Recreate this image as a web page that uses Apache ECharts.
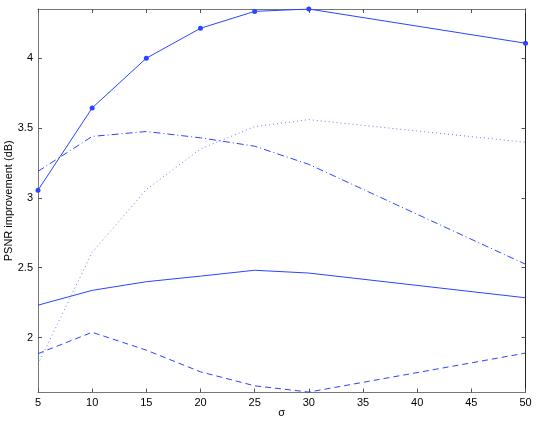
<!DOCTYPE html>
<html><head><meta charset="utf-8">
<script src="https://cdn.jsdelivr.net/npm/echarts@6/dist/echarts.min.js"></script>
<style>html,body{margin:0;padding:0;background:#fff}#c{width:540px;height:425px}</style>
</head><body><div id="c"></div>
<script>
const sigma = [5, 10, 15, 20, 25, 30, 50];
const solidMarked = [3.055, 3.644, 4.0, 4.214, 4.335, 4.352, 4.107];
const dashDot = [3.19, 3.44, 3.475, 3.43, 3.37, 3.24, 2.525];
const dotted = [1.81, 2.61, 3.06, 3.35, 3.51, 3.56, 3.398];
const solidPlain = [2.232, 2.338, 2.40, 2.44, 2.482, 2.462, 2.285];
const dashed = [1.885, 2.038, 1.91, 1.755, 1.655, 1.61, 1.889];
const xTicks = [5, 10, 15, 20, 25, 30, 35, 40, 45, 50];
const yTicks = [2, 2.5, 3, 3.5, 4];

const col = '#2a44ff';
const font = 'Liberation Sans, Arial, sans-serif';
function pairs(v) { return sigma.map((x, i) => [x, v[i]]); }
function ln(name, data, type, opts) {
  return Object.assign({
    name, type: 'line', data: pairs(data), xAxisIndex: 0, yAxisIndex: 0,
    showSymbol: false, symbol: 'none', animation: false,
    lineStyle: { color: col, width: 1, type: type },
    itemStyle: { color: col }
  }, opts || {});
}
const chart = echarts.init(document.getElementById('c'), null, { renderer: 'canvas' });
const axLine = c => ({ show: true, lineStyle: { color: c, width: 1 } });
chart.setOption({
  animation: false,
  grid: { left: 38, top: 9, right: 14.5, bottom: 32.5, containLabel: false, outerBoundsMode: 'none' },
  xAxis: [
    { type: 'value', min: 5, max: 50, interval: 5, position: 'bottom',
      name: 'σ', nameLocation: 'middle', nameGap: 15, nameMoveOverlap: false,
      nameTextStyle: { fontFamily: font, fontSize: 11, color: '#000' },
      axisLine: axLine('#777'), splitLine: { show: false },
      axisTick: { inside: true, length: 4, lineStyle: { color: '#555' } },
      axisLabel: { fontFamily: font, fontSize: 11, color: '#000', margin: 5,
        customValues: xTicks } },
    { type: 'value', min: 5, max: 50, interval: 5, position: 'top',
      axisLine: axLine('#777'), splitLine: { show: false },
      axisTick: { inside: true, length: 4, lineStyle: { color: '#555' } },
      axisLabel: { show: false } }
  ],
  yAxis: [
    { type: 'value', min: 1.607, max: 4.352, position: 'left',
      name: 'PSNR improvement (dB)', nameLocation: 'middle', nameGap: 24, nameMoveOverlap: false,
      nameTextStyle: { fontFamily: font, fontSize: 11, color: '#000' },
      axisLine: axLine('#777'), splitLine: { show: false },
      axisTick: { inside: true, length: 4, customValues: yTicks, lineStyle: { color: '#555' } },
      axisLabel: { fontFamily: font, fontSize: 11, color: '#000', margin: 5,
        customValues: yTicks, formatter: v => String(v) } },
    { type: 'value', min: 1.607, max: 4.352, position: 'right',
      axisLine: axLine('#222'), splitLine: { show: false },
      axisTick: { inside: true, length: 4, customValues: yTicks, lineStyle: { color: '#555' } },
      axisLabel: { show: false } }
  ],
  series: [
    ln('solid2', solidPlain, 'solid'),
    ln('dashed', dashed, [6, 4]),
    ln('dotted', dotted, [1, 3], { lineStyle: { color: '#6678ff', width: 1, type: [1, 3] } }),
    ln('dashdot', dashDot, [7, 3, 1, 3]),
    ln('solid1', solidMarked, 'solid', { showSymbol: true, symbol: 'circle', symbolSize: 5 })
  ]
});
</script></body></html>
